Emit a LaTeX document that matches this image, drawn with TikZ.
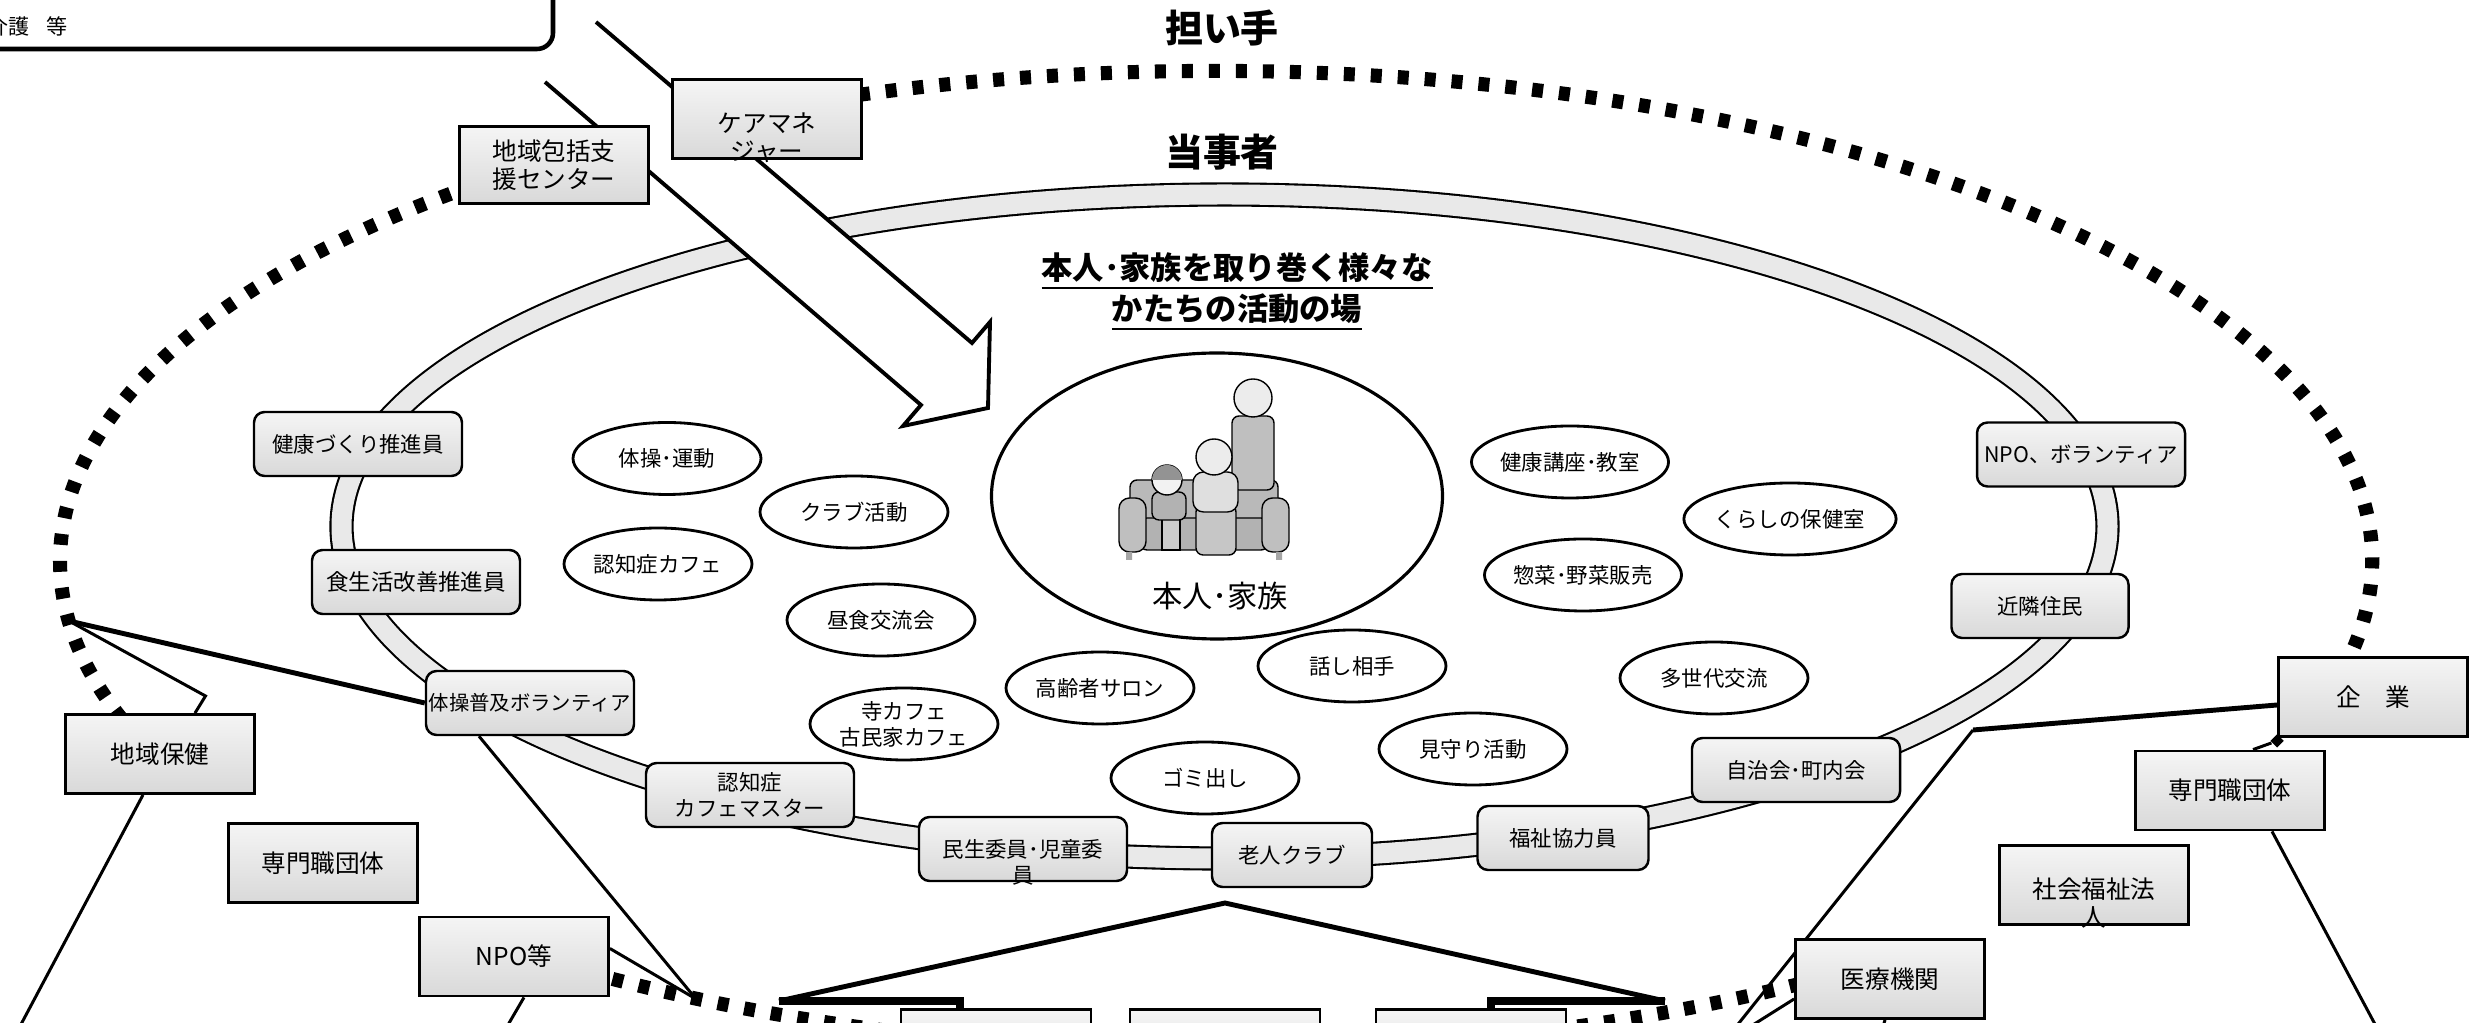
\documentclass[tikz,border=0pt]{standalone}
\usepackage{fontspec}
\setmainfont{Noto Sans CJK JP}
\usetikzlibrary{shapes,calc,backgrounds}

\newcommand{\boxfont}{\fontsize{6.1pt}{7.4pt}\selectfont}
\newcommand{\orgfont}{\fontsize{7pt}{8pt}\selectfont}

\begin{document}
\begin{tikzpicture}[
    member/.style={rectangle, rounded corners=3pt, draw, line width=0.7pt, top color=gray!8, bottom color=gray!30, minimum width=2.08cm, minimum height=0.64cm, inner sep=0pt, font=\boxfont, align=center},
    org/.style={rectangle, draw, line width=0.8pt, top color=gray!8, bottom color=gray!30, minimum width=1.89cm, minimum height=0.79cm, inner sep=0pt, font=\orgfont, align=center},
    place/.style={ellipse, draw, line width=0.8pt, fill=white, minimum width=1.88cm, minimum height=0.72cm, inner sep=0pt, font=\boxfont, align=center},
    heading/.style={font=\fontsize{10.8pt}{12pt}\selectfont\bfseries},
    connection/.style={line width=0.85pt},
    heavy/.style={line width=1.4pt},
    ring/.style={line width=4pt, dash pattern=on 0.11cm off 0.16cm},
    band/.style={line width=0.6pt, double=gray!17, double distance=0.2cm}
]
\useasboundingbox (0,0) rectangle (24.79,-10.23);

% Frame cut at the top left
\draw[line width=1.3pt, rounded corners=0.16cm] (-0.6,0.4) rectangle (5.53,-0.49);
\node[anchor=west, inner sep=0pt, font=\fontsize{6pt}{7pt}\selectfont] (kaigo) at (-0.133,-0.26) {介護\hspace{0.17cm}等};

% Headings
\node[heading] (ninaite) at (12.22,-0.285) {担い手};
\node[heading] (tojisha) at (12.22,-1.52) {当事者};
\node[font=\fontsize{8.9pt}{11.6pt}\selectfont\bfseries, align=center] (bamidashi) at (12.37,-2.92) {\underline{本人･家族を取り巻く様々な}\\\underline{かたちの活動の場}};

% Family in the centre
\node[ellipse, draw, line width=0.9pt, fill=white, minimum width=4.51cm, minimum height=2.86cm] (family) at (12.17,-4.96) {};
% sofa
\filldraw[fill=gray!55, line width=0.4pt, rounded corners=2pt] (11.30,-4.80) rectangle (12.78,-5.30);
\filldraw[fill=gray!60, line width=0.4pt, rounded corners=2pt] (11.40,-5.18) rectangle (12.68,-5.50);
\filldraw[fill=gray!50, line width=0.4pt, rounded corners=3pt] (11.19,-4.98) rectangle (11.46,-5.52);
\filldraw[fill=gray!50, line width=0.4pt, rounded corners=3pt] (12.62,-4.98) rectangle (12.89,-5.52);
\fill[gray!70] (11.26,-5.52) rectangle (11.32,-5.60) (12.76,-5.52) rectangle (12.82,-5.60);
% grandfather
\filldraw[fill=gray!50, line width=0.4pt, rounded corners=2pt] (12.32,-4.16) rectangle (12.74,-4.90);
\filldraw[fill=gray!15, line width=0.4pt] (12.53,-3.98) circle (0.19);
% grandmother
\filldraw[fill=gray!45, line width=0.4pt, rounded corners=2pt] (11.96,-5.05) rectangle (12.36,-5.55);
\filldraw[fill=gray!25, line width=0.4pt, rounded corners=3pt] (11.93,-4.72) rectangle (12.38,-5.12);
\filldraw[fill=gray!15, line width=0.4pt] (12.14,-4.57) circle (0.18);
% child
\filldraw[fill=gray!40, line width=0.4pt] (11.62,-5.15) rectangle (11.80,-5.50);
\filldraw[fill=gray!60, line width=0.4pt, rounded corners=2pt] (11.52,-4.92) rectangle (11.86,-5.20);
\filldraw[fill=gray!10, line width=0.4pt] (11.67,-4.80) circle (0.15);
\fill[gray!85] (11.52,-4.80) arc (180:0:0.15) -- cycle;
\node[font=\fontsize{8.6pt}{10pt}\selectfont] (familyname) at (12.2,-5.96) {本人･家族};

% Activities
\node[place] (taiso) at (6.67,-4.585) {体操･運動};
\node[place] (club) at (8.54,-5.12) {クラブ活動};
\node[place] (ninchicafe) at (6.58,-5.64) {認知症カフェ};
\node[place] (chushoku) at (8.81,-6.20) {昼食交流会};
\node[place] (teracafe) at (9.04,-7.24) {寺カフェ\\古民家カフェ};
\node[place] (salon) at (11.00,-6.88) {高齢者サロン};
\node[place] (hanashi) at (13.52,-6.66) {話し相手};
\node[place] (gomi) at (12.05,-7.78) {ゴミ出し};
\node[place] (mimamori) at (14.73,-7.49) {見守り活動};
\node[place] (koza) at (15.70,-4.62) {健康講座･教室};
\node[place] (kurashi) at (17.90,-5.19) {くらしの保健室};
\node[place] (sozai) at (15.83,-5.75) {惣菜･野菜販売};
\node[place] (tasedai) at (17.14,-6.78) {多世代交流};

% People on the band
\node[member] (kenkozukuri) at (3.58,-4.44) {健康づくり推進員};
\node[member, font=\fontsize{6.4pt}{7.4pt}\selectfont] (shokuseikatsu) at (4.16,-5.82) {食生活改善推進員};
\node[member, font=\fontsize{5.8pt}{7.4pt}\selectfont] (taisoVol) at (5.30,-7.03) {体操普及ボランティア};
\node[member] (cafemaster) at (7.50,-7.95) {認知症\\カフェマスター};
\node[member] (minsei) at (10.23,-8.49) {};
\node[font=\boxfont, align=center] (minseitext) at ([yshift=-0.13cm]minsei.center) {民生委員･児童委\\員};
\node[member, minimum width=1.60cm] (rojin) at (12.92,-8.55) {老人クラブ};
\node[member, minimum width=1.71cm] (fukushi) at (15.63,-8.38) {福祉協力員};
\node[member] (jichikai) at (17.96,-7.70) {自治会･町内会};
\node[member, minimum width=1.77cm] (kinrin) at (20.40,-6.06) {近隣住民};
\node[member] (npoVol) at (20.81,-4.545) {NPO、ボランティア};

% Supporting bodies
\node[org, minimum height=0.775cm] (hokatsu) at (5.54,-1.65) {地域包括支\\援センター};
\node[org] (caremgr) at (7.67,-1.19) {};
\node[font=\orgfont, align=center] (caremgrtext) at ([yshift=-0.19cm]caremgr.center) {ケアマネ\\ジャー};
\node[org] (chiikihoken) at (1.60,-7.54) {地域保健};
\node[org] (senmonL) at (3.23,-8.63) {専門職団体};
\node[org] (npo) at (5.14,-9.565) {NPO等};
\node[org] (kigyo) at (23.73,-6.97) {企　業};
\node[org] (senmonR) at (22.30,-7.905) {専門職団体};
\node[org] (shafuku) at (20.94,-8.85) {};
\node[font=\orgfont, align=center] (shafukutext) at ([yshift=-0.18cm]shafuku.center) {社会福祉法\\人};
\node[org] (iryo) at (18.90,-9.79) {医療機関};
\node[org, minimum width=1.9cm] (bottomA) at (9.96,-10.49) {};
\node[org, minimum width=1.9cm] (bottomB) at (12.25,-10.49) {};
\node[org, minimum width=1.9cm] (bottomC) at (14.71,-10.49) {};
\node[diamond, fill, inner sep=0pt, minimum size=0.14cm] (kigyomark) at ([yshift=-0.03cm]kigyo.south west) {};

\begin{scope}[on background layer]
\fill[white] (0,0) rectangle (24.79,-10.23);

% Rings (the outer one runs behind the boxes at both sides)
\draw[ring] (12.16,-5.61) ++(-13:11.56cm and 4.90cm)
    arc[start angle=-13, end angle=200, x radius=11.56cm, y radius=4.90cm];
\draw[ring] (12.16,-5.61) ++(237:11.56cm and 4.90cm)
    arc[start angle=237, end angle=301.5, x radius=11.56cm, y radius=4.90cm];
\draw[band] (12.245,-5.265) ellipse [x radius=8.83cm, y radius=3.32cm];

% Big arrow towards the family
\coordinate (u0) at (5.96,-0.22);
\coordinate (u1) at (9.72,-3.43);
\coordinate (b1) at (9.90,-3.22);
\coordinate (tip) at (9.88,-4.08);
\coordinate (b2) at (9.03,-4.26);
\coordinate (l1) at (9.21,-4.05);
\coordinate (l0) at (5.45,-0.82);
\fill[white] (u0) -- (u1) -- (b1) -- (tip) -- (b2) -- (l1) -- (l0) -- cycle;
\draw[line width=1.1pt, line join=miter] (u0) -- (u1) -- (b1) -- (tip) -- (b2) -- (l1) -- (l0);

% Free ends
\coordinate (p1) at (0.69,-6.21);
\coordinate (q1) at (2.055,-6.96);
\coordinate (c1) at (0.18,-10.3);
\coordinate (v1) at (6.96,-9.99);
\coordinate (c2) at (5.05,-10.3);
\coordinate (triapex) at (12.25,-9.03);
\coordinate (trileft) at (7.79,-10.01);
\coordinate (triright) at (16.65,-10.01);
\coordinate (k1) at (19.73,-7.30);
\coordinate (c3) at (17.35,-10.28);
\coordinate (c4) at (17.48,-10.28);
\coordinate (c5) at (18.82,-10.3);
\coordinate (c6) at (23.77,-10.28);

% Connections, left side
\draw[heavy] (taisoVol.west) -- (p1);
\draw[connection] (p1) -- (q1) -- ([xshift=0.35cm]chiikihoken.north);
\draw[connection] ([xshift=-0.17cm]chiikihoken.south) -- (c1);
\draw[connection] ([xshift=-0.51cm]taisoVol.south) -- (v1);
\draw[connection] ([yshift=0.08cm]npo.east) -- (v1);
\draw[connection] ([xshift=0.1cm]npo.south) -- (c2);

% Connections, bottom
\draw[heavy] (trileft) -- (triapex) -- (triright);
\draw[line width=2.2pt] (trileft) -- (9.60,-10.01) -- (9.60,-10.4);
\draw[line width=2.2pt] (triright) -- (14.91,-10.01) -- (14.91,-10.4);

% Connections, right side
\draw[heavy] ([yshift=-0.08cm]kigyo.west) -- (k1);
\draw[connection] (k1) -- (c3);
\draw[connection] ([yshift=-0.2cm]iryo.west) -- (c4);
\draw[connection] ([xshift=-0.05cm]iryo.south) -- (c5);
\draw[connection] ([xshift=0.23cm]senmonR.north) -- (kigyomark);
\draw[connection] ([xshift=0.42cm]senmonR.south) -- (c6);
\end{scope}

\end{tikzpicture}
\end{document}
